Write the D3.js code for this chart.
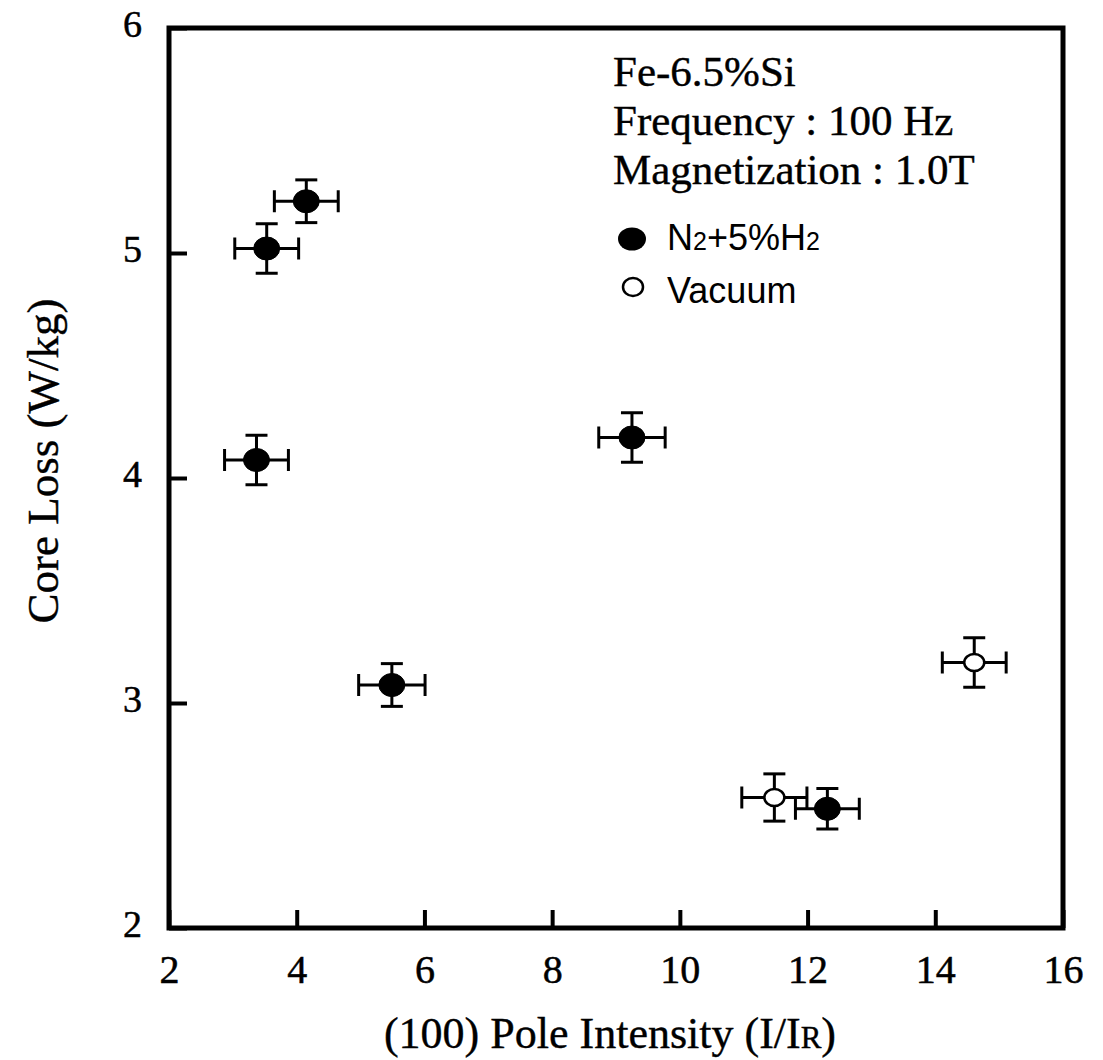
<!DOCTYPE html>
<html>
<head>
<meta charset="utf-8">
<script src="https://cdn.jsdelivr.net/npm/d3@7"></script>
<style>
  body { margin: 0; background: #fff; }
  svg { display: block; }
</style>
</head>
<body>
<div id="chart"></div>
<script>
// ---- data ----
const xTicks = [2, 4, 6, 8, 10, 12, 14, 16];
const yTicks = [2, 3, 4, 5, 6];

// N2+5%H2 (filled)
const n2X    = [4.15, 3.53, 3.37, 5.49, 9.25, 12.31];
const n2Y    = [5.23, 5.02, 4.08, 3.08, 4.18, 2.53];
const n2XErr = [0.50, 0.50, 0.50, 0.52, 0.52, 0.50];
const n2YErr = [0.095, 0.11, 0.11, 0.095, 0.11, 0.09];

// Vacuum (open)
const vacX    = [14.61, 11.48];
const vacY    = [3.18, 2.58];
const vacXErr = [0.50, 0.51];
const vacYErr = [0.11, 0.105];

const noteLines = ["Fe-6.5%Si", "Frequency : 100 Hz", "Magnetization : 1.0T"];

const W = 1103, H = 1060;
const margin = { top: 28, right: 40, bottom: 132, left: 169 },
      width = 1063 - margin.left,
      height = 928 - margin.top;

const serif = "'Liberation Serif', 'Times New Roman', serif";
const sans = "'Liberation Sans', Arial, sans-serif";

const svg = d3.select("#chart")
  .append("svg")
  .attr("width", W)
  .attr("height", H)
  .append("g")
  .attr("transform", `translate(${margin.left},${margin.top})`);

const x = d3.scaleLinear().domain([2, 16]).range([0, width]);
const y = d3.scaleLinear().domain([2, 6]).range([height, 0]);

// axes, ticks point inward
const xAxis = svg.append("g")
  .attr("transform", `translate(0,${height})`)
  .call(d3.axisBottom(x).tickValues(xTicks).tickFormat(d3.format("d")).tickSize(-18).tickPadding(27));
xAxis.select(".domain").remove();
xAxis.selectAll("line").attr("stroke", "#000").attr("stroke-width", 4);
xAxis.selectAll("text")
  .style("font-family", serif)
  .style("font-size", "40px")
  .attr("fill", "#000")
  .attr("stroke", "#000")
  .attr("stroke-width", 0.5);

const yAxis = svg.append("g")
  .call(d3.axisLeft(y).tickValues(yTicks).tickFormat(d3.format("d")).tickSize(-18).tickPadding(27));
yAxis.select(".domain").remove();
yAxis.selectAll("line").attr("stroke", "#000").attr("stroke-width", 4);
yAxis.selectAll("text")
  .style("font-family", serif)
  .style("font-size", "38px")
  .attr("dy", "0.22em")
  .attr("fill", "#000")
  .attr("stroke", "#000")
  .attr("stroke-width", 0.5);

// frame
svg.append("rect")
  .attr("x", 0).attr("y", 0)
  .attr("width", width).attr("height", height)
  .attr("fill", "none")
  .attr("stroke", "#000")
  .attr("stroke-width", 5);

// axis titles
svg.append("text")
  .attr("x", width / 2 - 6)
  .attr("y", 1048 - margin.top)
  .attr("text-anchor", "middle")
  .style("font-family", serif)
  .style("font-size", "44px")
  .attr("stroke", "#000")
  .attr("stroke-width", 0.4)
  .html("(100) Pole Intensity (I/I<tspan font-size='31px'>R</tspan>)");

svg.append("text")
  .attr("transform", `translate(${58 - margin.left},${461 - margin.top}) rotate(-90)`)
  .attr("text-anchor", "middle")
  .style("font-family", serif)
  .style("font-size", "45px")
  .attr("stroke", "#000")
  .attr("stroke-width", 0.4)
  .text("Core Loss (W/kg)");

// error bars + markers
function drawSeries(xs, ys, xe, ye, filled, rx, ry) {
  const pts = xs.map((v, i) => ({ x: v, y: ys[i], xe: xe[i], ye: ye[i] }));
  const cap = 11;
  const g = svg.append("g")
    .attr("stroke", "#000")
    .attr("stroke-width", 3);

  pts.forEach(d => {
    const cx = x(d.x), cy = y(d.y);
    const xl = x(d.x - d.xe), xr = x(d.x + d.xe);
    const yt = y(d.y + d.ye), yb = y(d.y - d.ye);
    g.append("line").attr("x1", xl).attr("x2", xr).attr("y1", cy).attr("y2", cy);
    g.append("line").attr("x1", xl).attr("x2", xl).attr("y1", cy - cap).attr("y2", cy + cap);
    g.append("line").attr("x1", xr).attr("x2", xr).attr("y1", cy - cap).attr("y2", cy + cap);
    g.append("line").attr("x1", cx).attr("x2", cx).attr("y1", yt).attr("y2", yb);
    g.append("line").attr("x1", cx - cap).attr("x2", cx + cap).attr("y1", yt).attr("y2", yt);
    g.append("line").attr("x1", cx - cap).attr("x2", cx + cap).attr("y1", yb).attr("y2", yb);
  });

  svg.append("g")
    .selectAll("ellipse")
    .data(pts)
    .join("ellipse")
    .attr("cx", d => x(d.x))
    .attr("cy", d => y(d.y))
    .attr("rx", rx)
    .attr("ry", ry)
    .attr("fill", filled ? "#000" : "#fff")
    .attr("stroke", "#000")
    .attr("stroke-width", filled ? 1 : 2.5);
}

drawSeries(n2X, n2Y, n2XErr, n2YErr, true, 13, 11.5);
drawSeries(vacX, vacY, vacXErr, vacYErr, false, 10, 8.5);

// note text
svg.append("g")
  .selectAll("text")
  .data(noteLines)
  .join("text")
  .attr("x", 613 - margin.left)
  .attr("y", (d, i) => 86 - margin.top + i * 49)
  .style("font-family", serif)
  .style("font-size", "43px")
  .attr("stroke", "#000")
  .attr("stroke-width", 0.4)
  .text(d => d);

// legend
const legend = svg.append("g")
  .attr("transform", `translate(${-margin.left},${-margin.top})`);

legend.append("ellipse")
  .attr("cx", 632).attr("cy", 239)
  .attr("rx", 14).attr("ry", 11.5)
  .attr("fill", "#000");
legend.append("text")
  .attr("x", 667).attr("y", 250)
  .style("font-family", sans)
  .style("font-size", "36px")
  .html("N<tspan font-size='25px'>2</tspan>+5%H<tspan font-size='25px'>2</tspan>");

legend.append("ellipse")
  .attr("cx", 633).attr("cy", 287)
  .attr("rx", 10).attr("ry", 9)
  .attr("fill", "#fff")
  .attr("stroke", "#000")
  .attr("stroke-width", 2.5);
legend.append("text")
  .attr("x", 667).attr("y", 303)
  .style("font-family", sans)
  .style("font-size", "36px")
  .text("Vacuum");
</script>
</body>
</html>
